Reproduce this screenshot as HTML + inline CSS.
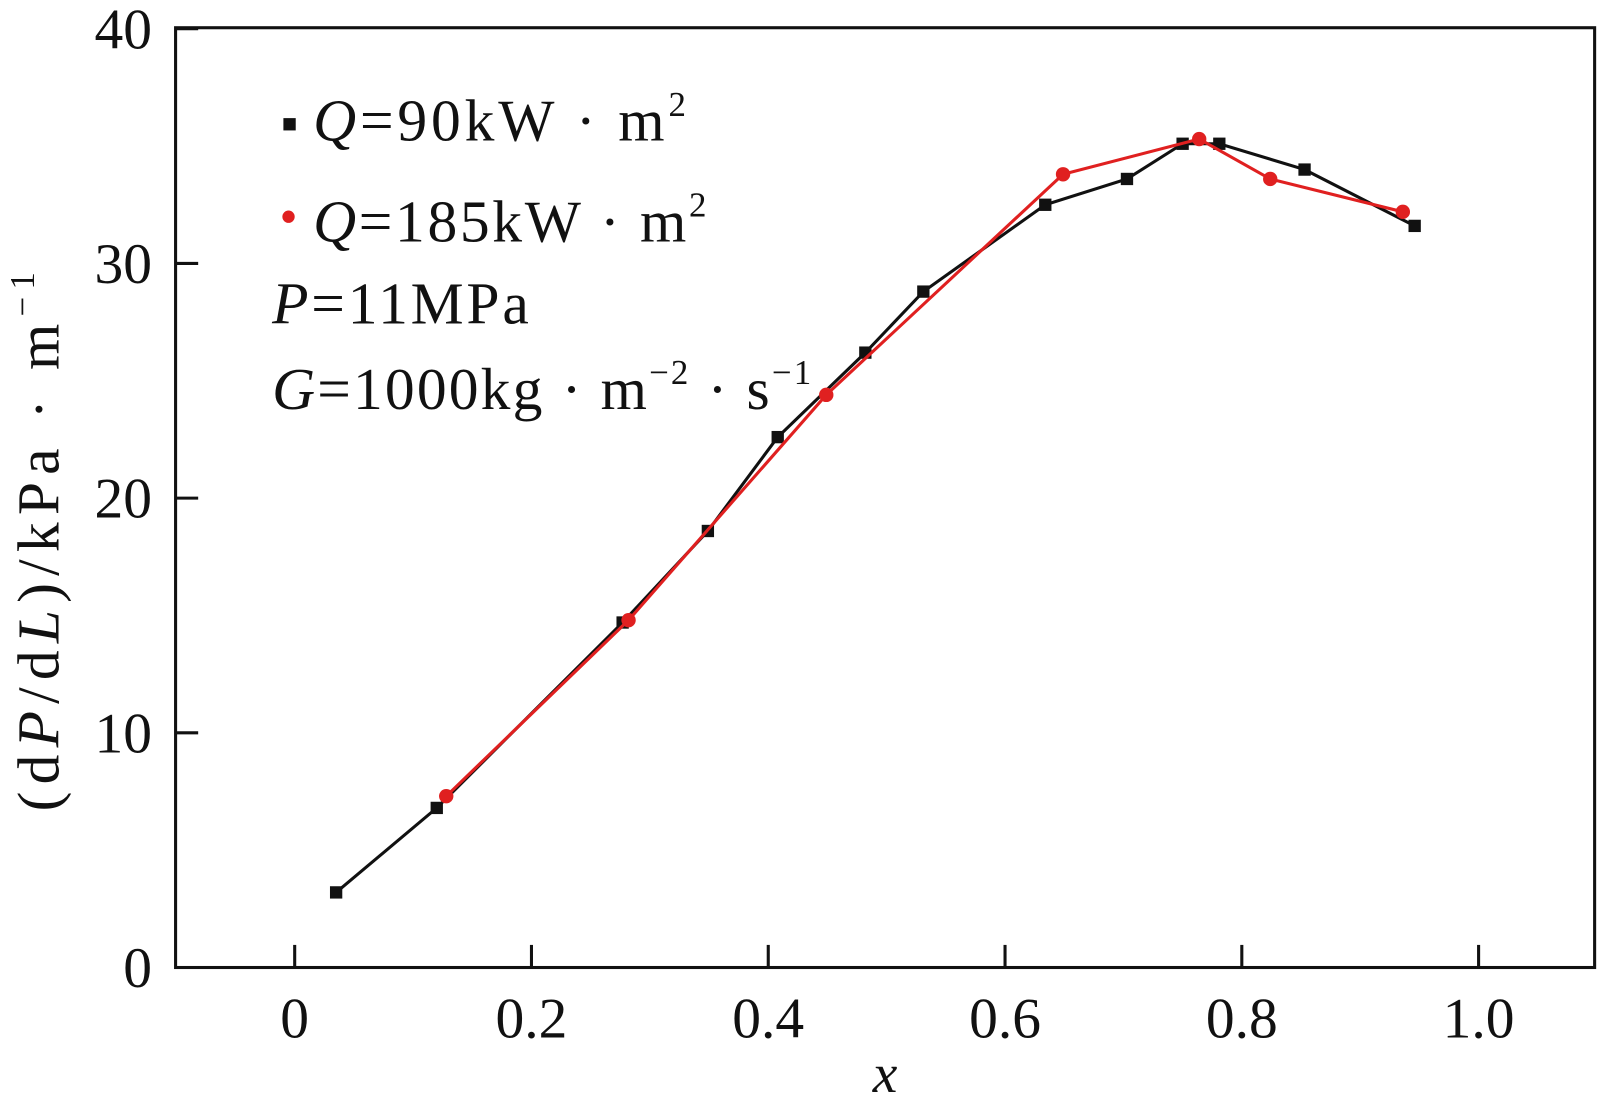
<!DOCTYPE html>
<html><head><meta charset="utf-8"><style>
html,body{margin:0;padding:0;background:#fff;width:1609px;height:1100px;overflow:hidden}
svg text{font-family:"Liberation Serif",serif;fill:#111}
</style></head><body>
<svg id="chart" width="1609" height="1100" viewBox="0 0 1567 1071" preserveAspectRatio="none" xmlns="http://www.w3.org/2000/svg">
<rect x="171" y="27" width="1382" height="915" fill="none" stroke="#111" stroke-width="3"/>
<g id="ticks"></g>
<g id="series"></g>
<text x="862" y="1063" font-size="54" font-style="italic" text-anchor="middle">x</text>
<text transform="translate(57,790) rotate(-90)" font-size="58" textLength="525" lengthAdjust="spacing">(d<tspan font-style="italic">P</tspan>/d<tspan font-style="italic">L</tspan>)/kPa · m<tspan font-size="34" dy="-24">−1</tspan></text>
<g font-size="58">
<rect x="276" y="115" width="12" height="12" fill="#111"/>
<text x="305" y="137" textLength="363" lengthAdjust="spacing"><tspan font-style="italic">Q</tspan>=90kW · m<tspan font-size="34" dy="-24">2</tspan></text>
<circle cx="281" cy="211" r="6" fill="#e02020"/>
<text x="305" y="235" textLength="383" lengthAdjust="spacing"><tspan font-style="italic">Q</tspan>=185kW · m<tspan font-size="34" dy="-24">2</tspan></text>
<text x="265" y="315" textLength="250" lengthAdjust="spacing"><tspan font-style="italic">P</tspan>=11MPa</text>
<text x="265" y="398" textLength="525" lengthAdjust="spacing"><tspan font-style="italic">G</tspan>=1000kg · m<tspan font-size="34" dy="-24">−2</tspan><tspan dy="24"> · s</tspan><tspan font-size="34" dy="-24">−1</tspan></text>
</g>
</svg>
<script>
const xTicks=[0,0.2,0.4,0.6,0.8,1.0];
const xTickLabels=["0","0.2","0.4","0.6","0.8","1.0"];
const yTicks=[0,10,20,30,40];
const yTickLabels=["0","10","20","30","40"];
const xQ90=[0.035,0.12,0.277,0.349,0.408,0.482,0.531,0.634,0.703,0.750,0.781,0.853,0.946];
const yQ90=[3.2,6.8,14.7,18.6,22.6,26.2,28.8,32.5,33.6,35.1,35.1,34.0,31.6];
const xQ185=[0.128,0.282,0.449,0.649,0.764,0.824,0.936];
const yQ185=[7.3,14.8,24.4,33.8,35.3,33.6,32.2];
const NS="http://www.w3.org/2000/svg";
const sx=v=>287+v*1153;
const sy=v=>942-v*22.85;
function mk(t,a,p){const e=document.createElementNS(NS,t);for(const k in a)e.setAttribute(k,a[k]);p.appendChild(e);return e;}
const tg=document.getElementById('ticks');
xTicks.forEach((v,i)=>{
 const l=mk('line',{x1:sx(v),x2:sx(v),y1:942,y2:920,stroke:'#111','stroke-width':3},tg);
 
 
 const t=mk('text',{x:sx(v),y:1010,'font-size':56,'text-anchor':'middle'},tg);
 t.textContent=xTickLabels[i];
 
 
});
yTicks.forEach((v,i)=>{
 const l=mk('line',{x1:171,x2:193,y1:sy(v),y2:sy(v),stroke:'#111','stroke-width':3},tg);
 
 
 const t=mk('text',{x:148,y:sy(v)+19,'font-size':56,'text-anchor':'end'},tg);
 t.textContent=yTickLabels[i];
 
 
});
const sg=document.getElementById('series');
function series(xs,ys,col,name,sq){
 const pl=mk('polyline',{points:xs.map((x,i)=>sx(x)+','+sy(ys[i])).join(' '),fill:'none',stroke:col,'stroke-width':3},sg);
 
 
 xs.forEach((x,i)=>{
  let m;
  if(sq) m=mk('rect',{x:sx(x)-6,y:sy(ys[i])-6,width:12,height:12,fill:col},sg);
  else m=mk('circle',{cx:sx(x),cy:sy(ys[i]),r:7,fill:col},sg);
  
  
 });
}
series(xQ90,yQ90,'#111','q90',true);
series(xQ185,yQ185,'#e02020','q185',false);
</script>
</body></html>
